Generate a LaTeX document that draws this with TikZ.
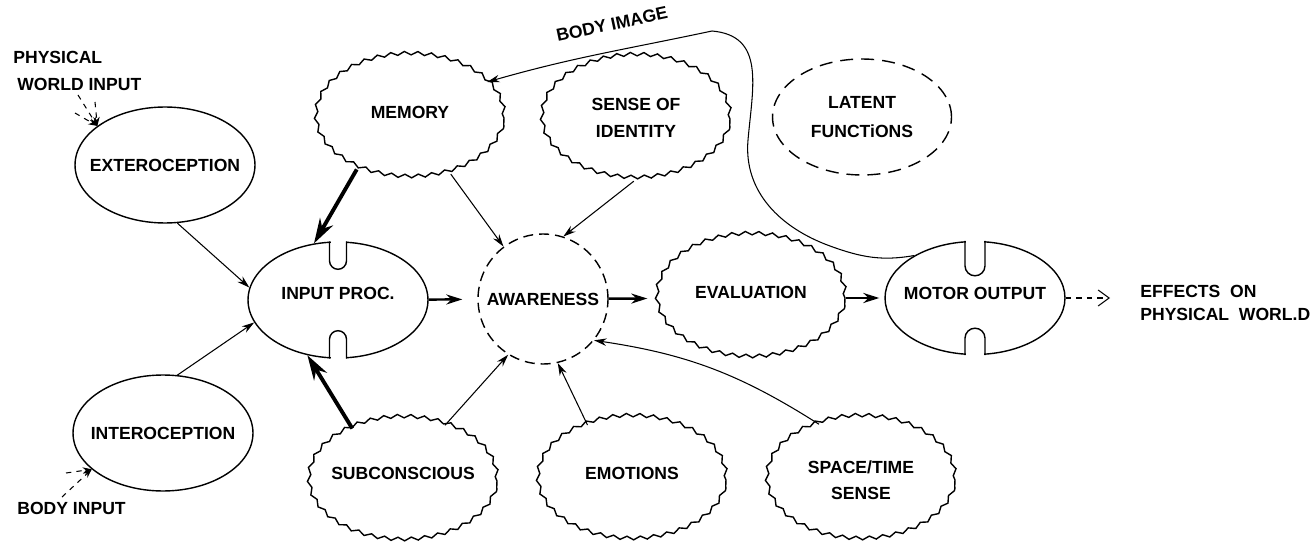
\documentclass[tikz,border=0pt]{standalone}
\usepackage{fontspec}
\setmainfont{Liberation Sans}
\usepackage{tikz}
\usetikzlibrary{positioning,shapes,arrows.meta,calc,decorations.pathmorphing}
\tikzstyle{plain}=[%
      ellipse, draw=black, line width=0.8pt, fill=none,
      minimum width=3.6cm, minimum height=2.32cm, inner sep=0pt
]
\tikzstyle{wavy}=[%
      ellipse, draw=black, line width=0.8pt, fill=none,
      decorate, decoration={snake, segment length=0.27cm, amplitude=0.035cm},
      minimum width=3.76cm, minimum height=2.46cm, inner sep=0pt
]
\tikzstyle{dashell}=[%
      ellipse, draw=black, line width=0.8pt, dash pattern=on 0.26cm off 0.16cm,
      minimum width=3.58cm, minimum height=2.32cm, inner sep=0pt
]
\tikzstyle{dashcirc}=[%
      circle, draw=black, line width=0.8pt, dash pattern=on 0.2cm off 0.12cm,
      minimum size=2.6cm, inner sep=0pt
]
\tikzstyle{lbl}=[%
      font=\bfseries\fontsize{10}{15}\selectfont, align=center, inner sep=0pt
]
\tikzstyle{lnk}=[line width=0.6pt, -{Stealth[length=0.25cm,width=0.15cm]}]
\tikzstyle{flow}=[line width=1.4pt, -{Stealth[length=0.32cm,width=0.2cm]}]
\tikzstyle{heavy}=[line width=2.2pt, -{Stealth[length=0.5cm,width=0.3cm]}]
\tikzstyle{feed}=[dashed, line width=0.6pt, -{Stealth[length=0.18cm,width=0.13cm]}]
\tikzstyle{outlnk}=[dashed, line width=0.6pt, -{Straight Barb[length=0.22cm,width=0.32cm]}]
% notch cut into the top / bottom of an ellipse
\newcommand{\topnotch}[3]{%
  \fill[white] ($(#1)+(-#3+0.02cm,-0.06cm)$) rectangle ($(#1)+(#3-0.02cm,0.06cm)$);
  \draw[line width=0.8pt] ($(#1)+(-#3,0)$) -- ++(0,-#2) arc[start angle=180,end angle=360,radius=#3] -- ++(0,#2);}
\newcommand{\botnotch}[3]{%
  \fill[white] ($(#1)+(-#3+0.02cm,-0.06cm)$) rectangle ($(#1)+(#3-0.02cm,0.06cm)$);
  \draw[line width=0.8pt] ($(#1)+(-#3,0)$) -- ++(0,#2) arc[start angle=180,end angle=0,radius=#3] -- ++(0,-#2);}
\begin{document}
\begin{tikzpicture}[x=0.02cm, y=0.02cm, auto]
  \useasboundingbox (0,0) rectangle (1315,545);

  % middle row
  \node[plain] (ext) at (165,380) {};
  \node[lbl] (extt) at (ext) {EXTEROCEPTION};
  \node[plain] (int) at (163,112) {};
  \node[lbl] (intt) at (int) {INTEROCEPTION};
  \node[plain] (ip) at (338,245) {};
  \node[lbl] (ipt) at (338,252) {INPUT PROC.};
  \node[dashcirc] (aw) at (543,246) {};
  \node[lbl] (awt) at (aw) {AWARENESS};
  \node[wavy] (ev) at (751,247) {};
  \node[lbl] (evt) at (751,253) {EVALUATION};
  \node[plain, minimum height=2.26cm] (mot) at (975,247) {};
  \node[lbl] (mott) at (975,252) {MOTOR OUTPUT};
  \node[lbl, anchor=west, align=left, font=\bfseries\fontsize{10}{13}\selectfont] (eff) at (1140,242) {EFFECTS\ \ ON\\PHYSICAL\ \ WORL.D};

  \topnotch{ip.north}{0.39cm}{0.17cm}
  \botnotch{ip.south}{0.39cm}{0.17cm}
  \topnotch{mot.north}{0.5cm}{0.2cm}
  \botnotch{mot.south}{0.34cm}{0.2cm}

  % top row
  \node[wavy] (mem) at (410,427) {};
  \node[lbl] (memt) at (410,433) {MEMORY};
  \node[wavy] (soi) at (636,426) {};
  \node[lbl] (soit) at (636,427) {SENSE OF\\IDENTITY};
  \node[dashell] (lat) at (862,428) {};
  \node[lbl] (latt) at (862,428) {LATENT\\[2pt]FUNCTiONS};

  % bottom row
  \node[wavy] (sub) at (403,64) {};
  \node[lbl] (subt) at (403,72) {SUBCONSCIOUS};
  \node[wavy] (emo) at (632,65) {};
  \node[lbl] (emot) at (632,72) {EMOTIONS};
  \node[wavy] (spt) at (861,65) {};
  \node[lbl] (sptt) at (861,65) {SPACE/TIME\\SENSE};

  % loose labels
  \node[lbl, anchor=west, align=left] (pwi) at (13,474) {PHYSICAL\\\hspace*{0.08cm}WORLD INPUT};
  \node[lbl, anchor=west] (bin) at (17,37) {BODY INPUT};
  \node[lbl, rotate=12] (bim) at (612,521) {BODY IMAGE};

  \coordinate (pw1) at (78,450);
  \coordinate (pw2) at (75,432);
  \coordinate (pw3) at (95,443);
  \coordinate (bin1) at (66,72);
  \coordinate (bin2) at (62,48);
  \coordinate (img1) at (830,299);
  \coordinate (img2) at (748,405);
  \coordinate (img3) at (712,514);

  \draw[feed] (pw1) -- (ext.150);
  \draw[feed] (pw2) -- (ext.150);
  \draw[feed] (pw3) -- (ext.150);
  \draw[feed] (bin1) -- (int.207);
  \draw[feed] (bin2) -- (int.207);

  \draw[lnk] (ext.-78) -- (ip.172);
  \draw[lnk] (int.76) -- (ip.195);
  \draw[heavy] (mem.224) -- (ip.113);
  \draw[heavy] (sub.134) -- (ip.241);
  \draw[flow, shorten >=0.3cm] (ip) -- (aw);
  \draw[flow, shorten >=0.18cm] (aw) -- (ev);
  \draw[flow, shorten >=0.1cm] (ev) -- (mot);
  \draw[outlnk, shorten >=0.6cm] (mot.east) -- (mot.east -| eff.west);

  \draw[lnk] (mem.-54) -- (aw.127);
  \draw[lnk] (soi.-92) -- (aw.72);
  \draw[lnk] (sub.53) -- (aw.238);
  \draw[lnk] (emo.129) -- (aw.283);
  \draw[lnk] (spt.127) to[bend right=12] (aw.321);

  \draw[lnk] (mot.145) to[out=190,in=-20] (img1) to[out=160,in=-95] (img2)
        to[out=85,in=-5,looseness=1.2] (img3) to[out=192,in=16] (mem.25);
\end{tikzpicture}
\end{document}
